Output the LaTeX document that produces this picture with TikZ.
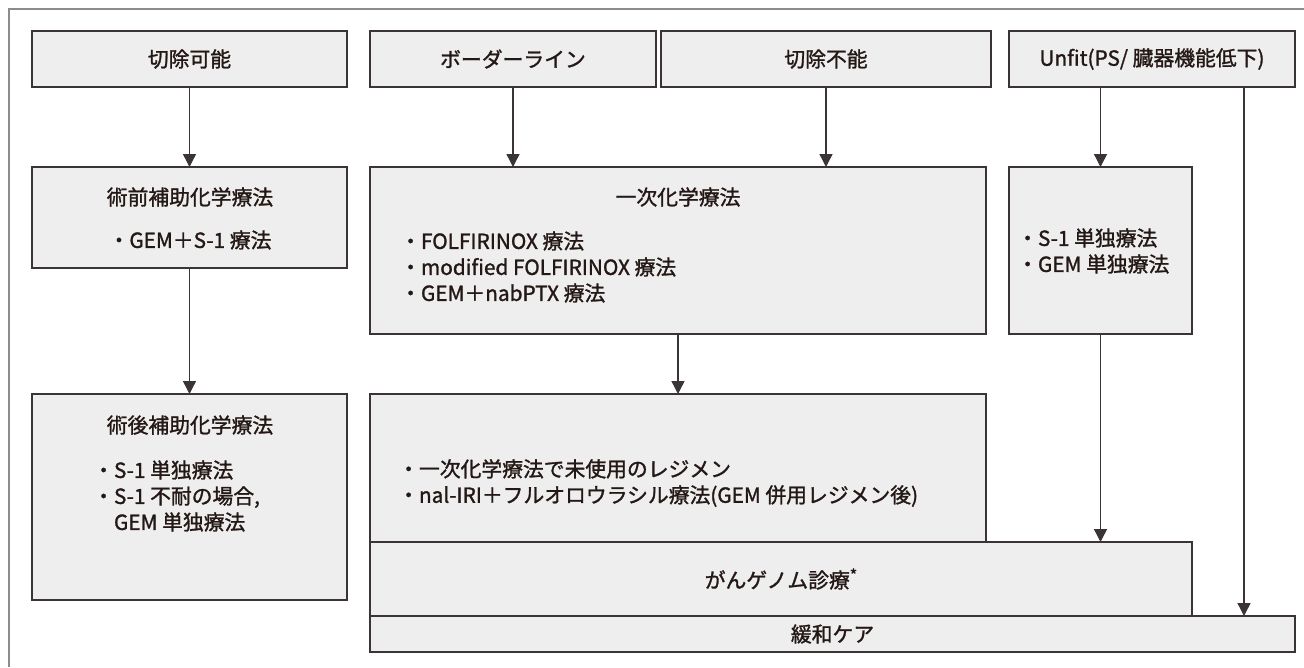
\documentclass[tikz,border=0pt]{standalone}
\usepackage{fontspec}
\setmainfont{Noto Sans CJK JP}[FakeBold=1.3]
\usetikzlibrary{arrows.meta}
\definecolor{boxfill}{HTML}{EEEEEE}
\definecolor{boxline}{HTML}{3A3434}
\definecolor{frameline}{HTML}{8C8C8C}
\definecolor{ink}{HTML}{231815}
\newcommand\dgfont{\fontsize{20.8}{26}\selectfont}
\begin{document}
\begin{tikzpicture}[x=1pt,y=-1pt,
  box/.style={draw=boxline, fill=boxfill, line width=1.6pt, inner sep=0pt, outer sep=0pt, anchor=north west, font=\dgfont, text=ink},
  txt/.style={inner sep=0pt, font=\dgfont, text=ink},
  lst/.style={txt, anchor=west, align=left},
  arr/.style={draw=boxline, line width=1.4pt, -{Triangle[length=13pt,width=13pt]}},
  frame/.style={draw=frameline, line width=1.5pt}]
\fill[white] (0,0) rectangle (1304,667);
\useasboundingbox (0,0) rectangle (1304,667);
% outer frame
\draw[frame] (9,667) -- (9,9) -- (1304,9);
% top row
\node[box, minimum width=315pt, minimum height=56pt] (top1) at (32,31) {切除可能};
\node[box, minimum width=286pt, minimum height=56pt] (top2) at (370,31) {ボーダーライン};
\node[box, minimum width=330pt, minimum height=56pt] (top3) at (661,31) {切除不能};
\node[box, minimum width=286pt, minimum height=56pt] (top4) at (1009,31) {Unfit(PS/ 臓器機能低下)};
% second row
\node[box, minimum width=315pt, minimum height=101pt] (pre) at (32,167) {};
\node[box, minimum width=616pt, minimum height=167pt] (first) at (370,167) {};
\node[box, minimum width=183pt, minimum height=167pt] (unfit) at (1009,167) {};
% third row
\node[box, minimum width=315pt, minimum height=206pt] (post) at (32,394) {};
\node[box, minimum width=616pt, minimum height=148pt] (second) at (370,394) {};
\node[box, minimum width=822pt, minimum height=74pt] (genome) at (370,542) {がんゲノム診療\raisebox{0.6ex}{\fontsize{16}{16}\selectfont *}};
\node[box, minimum width=925pt, minimum height=36pt] (pall) at (370,616) {緩和ケア};
% texts
\node[txt] (preT) at (190,197) {術前補助化学療法};
\node[txt] (preL) at (190,240) {・GEM＋S-1 療法};
\node[txt] (firstT) at (678,197) {一次化学療法};
\node[lst] (firstL) at (400,267) {・FOLFIRINOX 療法\\・modified FOLFIRINOX 療法\\・GEM＋nabPTX 療法};
\node[lst] (unfitL) at (1017,251) {・S-1 単独療法\\・GEM 単独療法};
\node[txt] (postT) at (190,425) {術後補助化学療法};
\node[lst] (postL) at (93,496) {・S-1 単独療法\\・S-1 不耐の場合,\\\phantom{・}GEM 単独療法};
\node[lst] (secondL) at (398,483) {・一次化学療法で未使用のレジメン\\・nal-IRI＋フルオロウラシル療法(GEM 併用レジメン後)};
% connectors
\draw[arr] (top1.south) -- (pre.north);
\draw[arr] (top2.south) -- (top2.south |- first.north);
\draw[arr] (top3.south) -- (top3.south |- first.north);
\draw[arr] (unfit.north |- top4.south) -- (unfit.north);
\draw[arr] (pre.south) -- (post.north);
\draw[arr] (first.south) -- (second.north);
\draw[arr] (unfit.south) -- (unfit.south |- genome.north);
\path (top4.south east) ++(-51pt,0pt) coordinate (u2);
\draw[arr] (u2) -- (u2 |- pall.north);
\end{tikzpicture}
\end{document}
